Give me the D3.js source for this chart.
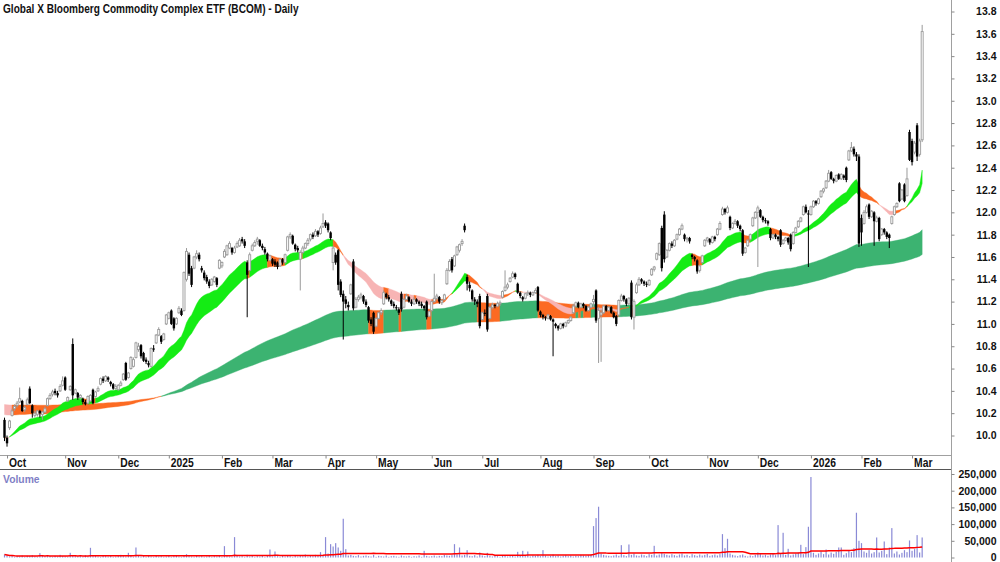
<!DOCTYPE html>
<html><head><meta charset="utf-8">
<script src="https://cdn.jsdelivr.net/npm/d3@7"></script>
<style>
body{margin:0;background:#fff}
svg{display:block}
text{font-family:"Liberation Sans",Arial,sans-serif;font-weight:bold}
</style>
</head><body>
<svg id="chart" width="1000" height="562"></svg>
<script>
const title = "Global X Bloomberg Commodity Complex ETF (BCOM) - Daily";
const firstDay = "2024-09-30", lastDay = "2026-03-06";
const holidays = ["2024-12-25","2024-12-26","2025-01-01","2025-01-27","2025-04-18","2025-04-21","2025-06-09","2025-12-25","2025-12-26","2026-01-01","2026-01-26"];
const monthLabels = ["Oct","Nov","Dec","2025","Feb","Mar","Apr","May","Jun","Jul","Aug","Sep","Oct","Nov","Dec","2026","Feb","Mar"];
const priceTicks = [10.0,10.2,10.4,10.6,10.8,11.0,11.2,11.4,11.6,11.8,12.0,12.2,12.4,12.6,12.8,13.0,13.2,13.4,13.6,13.8];
const volumeTicks = [0,50000,100000,150000,200000,250000];
const shortPeriods = [20, 34];
const longPeriods = [150, 250];
const longSeeds = [10.19, 10.28];
const volumeMAPeriod = 60;

// [open, high, low, close] per trading day
const candles = [
[10.14,10.16,9.95,9.98],[9.98,10.00,9.90,9.93],[10.07,10.14,10.05,10.13],[10.18,10.24,10.17,10.22],[10.24,10.28,10.22,10.26],
[10.27,10.31,10.25,10.29],[10.30,10.43,10.29,10.33],[10.31,10.32,10.21,10.22],[10.23,10.27,10.21,10.25],[10.28,10.34,10.27,10.32],
[10.42,10.44,10.28,10.29],[10.27,10.28,10.16,10.20],[10.18,10.22,10.16,10.20],[10.19,10.23,10.17,10.22],[10.22,10.23,10.16,10.20],
[10.19,10.22,10.14,10.21],[10.21,10.26,10.20,10.24],[10.27,10.34,10.26,10.33],[10.33,10.38,10.32,10.36],[10.37,10.41,10.35,10.39],
[10.40,10.42,10.36,10.38],[10.38,10.40,10.34,10.36],[10.40,10.46,10.39,10.44],[10.45,10.53,10.44,10.49],[10.52,10.53,10.40,10.41],
[10.31,10.35,10.30,10.34],[10.41,10.45,10.40,10.44],[10.82,10.87,10.32,10.36],[10.38,10.42,10.37,10.41],[10.38,10.39,10.32,10.34],
[10.34,10.37,10.32,10.36],[10.33,10.34,10.28,10.30],[10.30,10.32,10.27,10.28],[10.29,10.36,10.28,10.35],[10.31,10.37,10.30,10.36],
[10.41,10.42,10.28,10.29],[10.35,10.40,10.34,10.39],[10.40,10.44,10.39,10.42],[10.46,10.52,10.45,10.51],[10.51,10.53,10.47,10.49],
[10.49,10.54,10.48,10.53],[10.52,10.53,10.48,10.50],[10.48,10.49,10.44,10.46],[10.46,10.47,10.41,10.42],[10.42,10.46,10.41,10.44],
[10.41,10.46,10.40,10.45],[10.45,10.49,10.44,10.47],[10.50,10.56,10.49,10.55],[10.65,10.66,10.49,10.50],[10.52,10.57,10.51,10.56],
[10.60,10.71,10.59,10.70],[10.62,10.70,10.61,10.68],[10.70,10.84,10.69,10.83],[10.77,10.83,10.75,10.80],[10.81,10.82,10.69,10.71],
[10.74,10.75,10.66,10.67],[10.68,10.70,10.64,10.66],[10.65,10.67,10.61,10.63],[10.62,10.79,10.61,10.78],[10.78,10.81,10.75,10.77],
[10.83,10.91,10.82,10.90],[10.90,10.97,10.89,10.95],[10.89,10.90,10.82,10.84],[10.86,10.92,10.85,10.91],[11.00,11.09,10.99,11.08],
[11.05,11.11,11.04,11.10],[11.12,11.13,10.99,11.00],[11.05,11.06,10.94,10.96],[11.00,11.06,10.99,11.05],[11.10,11.16,11.09,11.14],
[11.12,11.14,11.07,11.08],[11.12,11.47,11.11,11.46],[11.40,11.68,11.38,11.65],[11.62,11.64,11.43,11.45],[11.50,11.52,11.33,11.35],
[11.50,11.61,11.49,11.60],[11.60,11.66,11.58,11.63],[11.62,11.64,11.56,11.58],[11.50,11.52,11.46,11.48],[11.46,11.48,11.39,11.41],
[11.42,11.44,11.36,11.38],[11.38,11.40,11.32,11.34],[11.35,11.41,11.34,11.40],[11.38,11.43,11.37,11.42],[11.41,11.42,11.33,11.35],
[11.50,11.58,11.49,11.57],[11.52,11.56,11.50,11.55],[11.60,11.67,11.59,11.65],[11.62,11.71,11.61,11.70],[11.68,11.74,11.67,11.72],
[11.68,11.69,11.62,11.64],[11.64,11.70,11.63,11.68],[11.69,11.74,11.68,11.72],[11.70,11.77,11.69,11.75],[11.76,11.78,11.72,11.74],
[11.74,11.76,11.68,11.70],[11.55,11.57,11.06,11.44],[11.48,11.64,11.47,11.62],[11.66,11.72,11.65,11.70],[11.70,11.75,11.69,11.73],
[11.74,11.78,11.71,11.76],[11.75,11.76,11.69,11.70],[11.70,11.72,11.66,11.68],[11.67,11.69,11.62,11.64],[11.63,11.64,11.56,11.58],
[11.57,11.62,11.56,11.61],[11.58,11.59,11.52,11.54],[11.56,11.58,11.51,11.53],[11.55,11.56,11.49,11.51],[11.52,11.59,11.51,11.58],
[11.58,11.59,11.53,11.55],[11.55,11.63,11.54,11.62],[11.66,11.79,11.65,11.78],[11.78,11.82,11.76,11.80],[11.79,11.80,11.71,11.72],
[11.71,11.72,11.65,11.67],[11.68,11.70,11.64,11.66],[11.58,11.66,11.30,11.64],[11.64,11.70,11.63,11.68],[11.68,11.73,11.67,11.72],
[11.72,11.77,11.70,11.75],[11.76,11.81,11.74,11.80],[11.80,11.82,11.76,11.78],[11.79,11.85,11.78,11.83],[11.83,11.84,11.78,11.80],
[11.81,11.88,11.80,11.86],[11.87,11.99,11.86,11.90],[11.91,11.93,11.86,11.88],[11.90,11.91,11.82,11.84],[11.82,11.83,11.75,11.77],
[11.55,11.70,11.48,11.68],[11.62,11.64,11.53,11.55],[11.66,11.67,11.30,11.35],[11.38,11.40,11.24,11.26],[11.27,11.30,10.86,11.20],
[11.22,11.25,11.14,11.18],[11.17,11.20,11.12,11.15],[11.27,11.36,11.26,11.35],[11.56,11.58,11.12,11.14],[11.15,11.24,11.14,11.22],
[11.22,11.26,11.20,11.24],[11.24,11.28,11.22,11.26],[11.25,11.26,11.18,11.20],[11.20,11.22,11.15,11.17],[11.15,11.16,11.01,11.03],
[11.04,11.06,10.98,11.00],[11.10,11.11,10.91,10.93],[10.98,11.06,10.97,11.05],[11.05,11.11,11.04,11.10],[11.10,11.14,11.08,11.12],
[11.18,11.30,11.17,11.28],[11.27,11.28,11.22,11.24],[11.24,11.26,11.20,11.22],[11.21,11.22,11.16,11.18],[11.18,11.20,11.14,11.16],
[11.15,11.17,11.12,11.14],[11.13,11.15,11.08,11.10],[11.27,11.29,11.11,11.13],[11.15,11.23,11.14,11.22],[11.22,11.27,11.21,11.25],
[11.24,11.25,11.19,11.20],[11.20,11.22,11.16,11.18],[11.18,11.24,11.17,11.22],[11.22,11.23,11.18,11.20],[11.20,11.21,11.16,11.18],
[11.18,11.20,11.14,11.16],[11.16,11.17,11.12,11.14],[11.20,11.21,11.04,11.06],[11.07,11.12,11.06,11.11],[11.12,11.21,11.11,11.20],
[11.20,11.45,11.19,11.23],[11.23,11.27,11.21,11.25],[11.24,11.25,11.18,11.20],[11.19,11.22,11.17,11.21],[11.22,11.27,11.21,11.26],
[11.36,11.50,11.35,11.48],[11.48,11.58,11.47,11.56],[11.58,11.60,11.46,11.48],[11.52,11.62,11.51,11.61],[11.62,11.70,11.61,11.69],
[11.66,11.72,11.64,11.71],[11.72,11.76,11.70,11.74],[11.88,11.90,11.82,11.84],[11.42,11.44,11.30,11.36],[11.35,11.38,11.29,11.32],
[11.30,11.31,11.20,11.22],[11.22,11.24,11.17,11.20],[11.20,11.22,11.15,11.18],[11.25,11.27,10.96,10.98],[11.04,11.11,11.03,11.10],
[11.10,11.13,11.07,11.09],[11.25,11.27,10.93,10.95],[11.05,11.16,11.04,11.15],[11.15,11.19,11.13,11.17],[11.17,11.18,11.14,11.16],
[11.16,11.20,11.15,11.18],[11.18,11.21,11.16,11.19],[11.24,11.30,11.23,11.29],[11.30,11.48,11.29,11.33],[11.33,11.37,11.31,11.35],
[11.38,11.42,11.37,11.41],[11.42,11.47,11.41,11.45],[11.45,11.46,11.40,11.42],[11.36,11.37,11.27,11.28],[11.28,11.29,11.23,11.25],
[11.24,11.25,11.20,11.22],[11.23,11.28,11.22,11.27],[11.27,11.30,11.25,11.28],[11.28,11.29,11.24,11.26],[11.26,11.29,11.25,11.28],
[11.28,11.32,11.27,11.30],[11.33,11.34,11.11,11.12],[11.11,11.12,11.06,11.08],[11.08,11.09,11.04,11.06],[11.06,11.07,11.03,11.05],
[11.05,11.09,11.04,11.08],[11.07,11.08,11.03,11.04],[11.04,11.05,10.71,11.02],[11.00,11.01,10.96,10.98],[10.98,10.99,10.94,10.96],
[10.96,11.01,10.95,11.00],[11.00,11.01,10.96,10.98],[10.98,11.02,10.97,11.01],[11.01,11.04,11.00,11.03],[11.03,11.07,11.02,11.06],
[11.10,11.18,11.09,11.16],[11.16,11.20,11.15,11.19],[11.19,11.20,11.14,11.15],[11.15,11.19,11.14,11.18],[11.18,11.19,11.14,11.16],
[11.16,11.17,11.11,11.12],[11.12,11.16,11.11,11.15],[11.15,11.19,11.14,11.18],[11.20,11.26,11.15,11.22],[11.30,11.31,11.01,11.03],
[11.05,11.15,10.65,11.12],[11.08,11.13,10.66,11.10],[11.10,11.17,11.09,11.16],[11.16,11.17,11.11,11.12],[11.12,11.16,11.11,11.15],
[11.15,11.16,11.09,11.10],[11.10,11.11,11.05,11.06],[11.07,11.08,10.98,11.00],[11.08,11.22,11.07,11.21],[11.21,11.27,11.20,11.25],
[11.25,11.26,11.20,11.22],[11.22,11.23,11.16,11.18],[11.18,11.24,11.17,11.23],[11.37,11.39,11.04,11.06],[11.06,11.22,10.95,11.20],
[11.28,11.37,11.27,11.35],[11.35,11.42,11.34,11.40],[11.40,11.41,11.36,11.38],[11.38,11.39,11.34,11.36],[11.36,11.38,11.33,11.35],
[11.35,11.40,11.34,11.39],[11.44,11.50,11.43,11.49],[11.49,11.52,11.47,11.51],[11.58,11.64,11.57,11.63],[11.62,11.73,11.61,11.72],
[11.86,11.88,11.47,11.50],[11.98,12.01,11.55,11.58],[11.60,11.67,11.59,11.66],[11.66,11.73,11.65,11.72],[11.72,11.74,11.68,11.70],
[11.70,11.76,11.69,11.75],[11.76,11.81,11.75,11.80],[11.80,11.86,11.79,11.85],[11.85,11.90,11.84,11.88],[11.80,11.81,11.74,11.76],
[11.76,11.78,11.73,11.77],[11.77,11.78,11.72,11.74],[11.62,11.63,11.58,11.60],[11.60,11.61,11.56,11.58],[11.57,11.58,11.45,11.47],
[11.48,11.53,11.46,11.52],[11.55,11.62,11.54,11.61],[11.70,11.76,11.69,11.75],[11.75,11.78,11.73,11.77],[11.76,11.77,11.71,11.73],
[11.73,11.79,11.72,11.78],[11.78,11.79,11.74,11.76],[11.80,11.86,11.79,11.85],[11.85,11.92,11.84,11.90],[11.98,12.05,11.97,12.03],
[12.03,12.04,11.98,12.00],[12.00,12.06,11.99,12.04],[11.96,11.97,11.84,11.86],[11.86,11.91,11.85,11.90],[11.90,11.94,11.89,11.92],
[11.92,11.93,11.86,11.88],[11.88,11.89,11.83,11.85],[11.84,11.85,11.61,11.63],[11.64,11.69,11.63,11.68],[11.70,11.76,11.69,11.75],
[11.76,11.81,11.75,11.80],[11.88,11.96,11.87,11.95],[11.95,12.01,11.94,12.00],[12.00,12.06,11.51,12.04],[12.02,12.03,11.95,11.96],
[11.96,11.97,11.91,11.93],[11.93,11.95,11.90,11.92],[11.92,11.93,11.88,11.90],[11.85,11.86,11.75,11.77],[11.77,11.81,11.76,11.80],
[11.80,11.81,11.76,11.78],[11.78,11.79,11.74,11.76],[11.84,11.85,11.69,11.71],[11.72,11.76,11.71,11.75],[11.75,11.78,11.74,11.77],
[11.77,11.78,11.71,11.73],[11.80,11.81,11.65,11.67],[11.72,11.83,11.71,11.82],[11.82,11.87,11.81,11.86],[11.87,11.93,11.86,11.92],
[11.92,11.96,11.91,11.95],[11.98,12.06,11.97,12.05],[12.05,12.07,11.99,12.00],[11.99,12.02,11.51,11.98],[11.98,12.06,11.97,12.05],
[12.05,12.11,12.04,12.10],[12.10,12.11,12.06,12.08],[12.08,12.13,12.07,12.12],[12.14,12.20,12.13,12.19],[12.19,12.22,12.17,12.21],
[12.22,12.29,12.21,12.28],[12.28,12.38,12.27,12.35],[12.36,12.37,12.29,12.30],[12.30,12.31,12.26,12.28],[12.28,12.34,12.27,12.33],
[12.34,12.35,12.29,12.30],[12.30,12.35,12.29,12.34],[12.33,12.34,12.29,12.31],[12.40,12.41,12.27,12.29],[12.47,12.56,12.46,12.55],
[12.55,12.63,12.54,12.58],[12.57,12.59,12.50,12.52],[12.52,12.54,12.46,12.50],[12.50,12.52,11.69,11.72],[11.95,11.98,11.70,11.82],
[11.90,12.02,11.89,12.00],[12.00,12.07,11.99,12.05],[12.07,12.08,11.94,11.96],[11.96,12.02,11.95,12.01],[12.00,12.01,11.70,11.92],
[11.92,11.97,11.91,11.95],[11.95,11.96,11.74,11.76],[11.80,11.86,11.79,11.85],[11.85,11.86,11.80,11.82],[11.82,11.83,11.76,11.78],
[11.80,11.81,11.68,11.77],[11.90,11.97,11.89,11.96],[11.98,12.06,11.97,12.05],[12.05,12.09,12.04,12.08],[12.26,12.27,12.09,12.10],
[12.12,12.21,12.11,12.20],[12.25,12.26,12.09,12.10],[12.15,12.40,12.14,12.30],[12.72,12.74,12.46,12.47],[12.64,12.66,12.42,12.45],
[12.54,12.64,12.52,12.62],[12.78,12.80,12.46,12.50],[12.52,12.66,12.50,12.64],[12.65,13.68,12.63,13.62]
];

const volumes = [
9000,6000,3000,5000,2000,4000,3000,6000,2000,5000,4000,7000,3000,2000,13000,5000,3000,6000,4000,2000,
5000,3000,8000,4000,3000,2000,14000,6000,4000,3000,5000,2000,7000,3000,29000,4000,6000,3000,2000,5000,
4000,3000,6000,2000,3000,5000,8000,4000,3000,14000,6000,2000,30000,5000,3000,4000,2000,6000,3000,2000,
5000,3000,4000,2000,3000,6000,2000,4000,5000,3000,2000,7000,10000,4000,3000,2000,5000,3000,4000,2000,
3000,6000,2000,4000,3000,5000,2000,34000,4000,3000,2000,61000,5000,3000,4000,2000,8000,3000,5000,2000,
4000,3000,6000,2000,5000,24000,3000,18000,4000,2000,5000,3000,6000,4000,2000,7000,3000,5000,4000,9000,
3000,6000,4000,8000,5000,16000,7000,61000,12000,40000,33000,43000,30000,20000,116000,25000,6000,8000,5000,4000,
7000,3000,5000,6000,4000,3000,8000,2000,5000,4000,3000,6000,2000,4000,5000,3000,2000,6000,4000,3000,
5000,2000,4000,3000,6000,2000,20000,5000,3000,4000,6000,3000,5000,4000,8000,6000,5000,7000,40000,9000,
30000,6000,8000,22000,5000,4000,7000,3000,15000,6000,4000,14000,5000,3000,6000,4000,2000,5000,7000,3000,
4000,6000,3000,17000,5000,20000,4000,18000,3000,6000,5000,8000,4000,22000,6000,3000,5000,9000,4000,6000,
3000,5000,7000,4000,6000,3000,5000,4000,8000,6000,5000,7000,9000,94000,118000,152000,12000,8000,6000,5000,
4000,6000,9000,5000,37000,7000,4000,39000,8000,12000,6000,5000,9000,7000,4000,10000,8000,35000,6000,9000,
14000,11000,8000,6000,10000,7000,5000,9000,12000,6000,8000,4000,10000,7000,5000,9000,6000,8000,11000,5000,
7000,9000,6000,10000,70000,28000,56000,12000,8000,6000,4000,7000,9000,5000,3000,6000,4000,8000,15000,10000,
6000,8000,5000,9000,12000,7000,97000,10000,74000,8000,26000,6000,9000,12000,15000,38000,10000,31000,92000,241000,
14000,8000,12000,18000,10000,24000,9000,15000,11000,17000,30000,30000,8000,13000,20000,16000,28000,134000,50000,43000,
18000,14000,22000,12000,16000,60000,15000,20000,48000,10000,30000,88000,12000,18000,9000,14000,22000,16000,51000,20000,25000,67000,15000,60000
];

// ---------- derived ----------
const fmt = d3.timeFormat("%Y-%m-%d");
const parse = d3.timeParse("%Y-%m-%d");
const hol = new Set(holidays);
const days = d3.timeDay.range(parse(firstDay), d3.timeDay.offset(parse(lastDay), 1))
  .filter(d => d.getDay() !== 0 && d.getDay() !== 6 && !hol.has(fmt(d)));
const N = Math.min(days.length, candles.length);
const data = d3.range(N).map(i => ({i, date: days[i], o: candles[i][0], h: candles[i][1], l: candles[i][2], c: candles[i][3], v: volumes[i]}));

function ema(vals, period, seed) {
  const a = 2 / (period + 1); const out = []; let e = seed;
  vals.forEach((v, k) => { e = k === 0 && seed === undefined ? v : e + a * (v - e); out.push(e); });
  return out;
}
const closes = data.map(d => d.c);
const sFast = ema(closes, shortPeriods[0]), sSlow = ema(closes, shortPeriods[1]);
const lFast = ema(closes, longPeriods[0], longSeeds[0]), lSlow = ema(closes, longPeriods[1], longSeeds[1]);
const volMA = data.map((d, i) => d3.mean(volumes.slice(Math.max(0, i - volumeMAPeriod + 1), i + 1)));

// ---------- layout ----------
const svg = d3.select("#chart");
const axisX = 952, priceBottom = 455, volTop = 469;
const x = d3.scaleLinear().domain([0, N - 1]).range([4.5, 4.5 + (N - 1) * 2.528]);
const y = d3.scaleLinear().domain([10.0, 13.8]).range([435.5, 11.5]);
const yv = d3.scaleLinear().domain([0, 250000]).range([557.5, 474]);

const defs = svg.append("defs");
defs.append("clipPath").attr("id", "pclip").append("rect").attr("x", 0).attr("y", 0).attr("width", axisX).attr("height", priceBottom);
defs.append("clipPath").attr("id", "vclip").append("rect").attr("x", 0).attr("y", volTop + 1).attr("width", axisX).attr("height", 562 - volTop);

const GREEN_S = "#14ec14", GREEN_L = "#3cb371", ORANGE = "#fc6a22", PINK = "#f7b4b4";
function bandColor(f, s, c, green) {
  if (f > s && c > Math.max(f, s)) return green;
  if (f < s && c < Math.min(f, s)) return PINK;
  return ORANGE;
}
const price = svg.append("g").attr("clip-path", "url(#pclip)");
function drawBand(f, s, green) {
  const cols = data.map((d, i) => bandColor(f[i], s[i], d.c, green));
  const area = d3.area().x(i => x(i)).y0(i => y(Math.min(f[i], s[i]))).y1(i => y(Math.max(f[i], s[i])));
  let start = 0;
  for (let i = 1; i <= N; i++) {
    if (i === N || cols[i] !== cols[start]) {
      const idx = d3.range(start, Math.min(i, N - 1) + 1);
      if (idx.length === 1) idx.push(idx[0]);
      price.append("path").attr("d", area(idx)).attr("fill", cols[start]).attr("stroke", cols[start]).attr("stroke-width", 0.4);
      start = i;
    }
  }
}
drawBand(lFast, lSlow, GREEN_L);
drawBand(sFast, sSlow, GREEN_S);

const UPC = "#9a9a9a";
const cg = price.append("g");
cg.selectAll("line").data(data).join("line")
  .attr("x1", d => x(d.i)).attr("x2", d => x(d.i))
  .attr("y1", d => y(d.h)).attr("y2", d => y(d.l))
  .attr("stroke", d => d.c >= d.o ? UPC : "#000").attr("stroke-width", 1);
cg.selectAll("rect").data(data).join("rect")
  .attr("x", d => x(d.i) - (d.c >= d.o ? 1 : 1.2))
  .attr("width", d => d.c >= d.o ? 2 : 2.4)
  .attr("y", d => y(Math.max(d.o, d.c)))
  .attr("height", d => Math.max(1, Math.abs(y(d.o) - y(d.c))))
  .attr("fill", d => d.c >= d.o ? "#fff" : "#000")
  .attr("stroke", d => d.c >= d.o ? UPC : "none").attr("stroke-width", 0.9);

// volume
const vol = svg.append("g").attr("clip-path", "url(#vclip)");
vol.selectAll("rect").data(data).join("rect")
  .attr("x", d => x(d.i) - 0.6).attr("width", 1.2)
  .attr("y", d => yv(d.v)).attr("height", d => yv(0) - yv(d.v))
  .attr("fill", "#8a8ad6");
vol.append("path").datum(data)
  .attr("d", d3.line().x(d => x(d.i)).y((d, i) => yv(volMA[i])))
  .attr("fill", "none").attr("stroke", "#ff0000").attr("stroke-width", 1.5);

// frame lines
svg.append("line").attr("x1", 0).attr("x2", axisX).attr("y1", priceBottom + 0.5).attr("y2", priceBottom + 0.5).attr("stroke", "#a0a0a0");
svg.append("line").attr("x1", 0).attr("x2", axisX).attr("y1", volTop + 0.5).attr("y2", volTop + 0.5).attr("stroke", "#555");
svg.append("line").attr("x1", axisX - 0.5).attr("x2", axisX - 0.5).attr("y1", 0).attr("y2", 562).attr("stroke", "#a0a0a0");

// x axis (month ticks)
const tickIdx = data.filter((d, i) => i > 0 && d.date.getMonth() !== data[i - 1].date.getMonth()).map(d => d.i);
const xAxis = d3.axisBottom(x).tickValues(tickIdx).tickSize(3).tickFormat((d, k) => monthLabels[k]);
const gx = svg.append("g").attr("transform", `translate(0,${priceBottom + 0.5})`).call(xAxis);
gx.select(".domain").remove();
gx.selectAll(".tick line").attr("stroke", "#888");
gx.selectAll(".tick text").attr("text-anchor", "start").attr("font-size", 12).attr("font-family", null)
  .attr("fill", "#111").attr("y", 0).attr("dy", null)
  .attr("transform", "translate(1.5,11.5) scale(0.86,1)");

// price axis
const yAxis = d3.axisRight(y).tickValues(priceTicks).tickSize(3).tickFormat(d3.format(".1f"));
const gy = svg.append("g").attr("transform", `translate(${axisX - 0.5},0)`).call(yAxis);
gy.select(".domain").remove();
gy.selectAll(".tick line").attr("stroke", "#888");
gy.selectAll(".tick text").attr("x", 45).attr("text-anchor", "end").attr("font-size", 10.5).attr("font-family", null).attr("fill", "#111");

// volume axis
const vAxis = d3.axisRight(yv).tickValues(volumeTicks).tickSize(3).tickFormat(d3.format(","));
const gv = svg.append("g").attr("transform", `translate(${axisX - 0.5},0)`).call(vAxis);
gv.select(".domain").remove();
gv.selectAll(".tick line").attr("stroke", "#888");
gv.selectAll(".tick text").attr("x", 45).attr("text-anchor", "end").attr("font-size", 10.5).attr("font-family", null).attr("fill", "#111");

// labels
svg.append("text").attr("transform", "translate(3,12.5) scale(0.82,1)").attr("font-size", 12.3).attr("fill", "#111").text(title);
svg.append("text").attr("transform", "translate(3,483) scale(0.9,1)").attr("font-size", 11.5).attr("fill", "#7f7fc6").text("Volume");
</script>
</body></html>
